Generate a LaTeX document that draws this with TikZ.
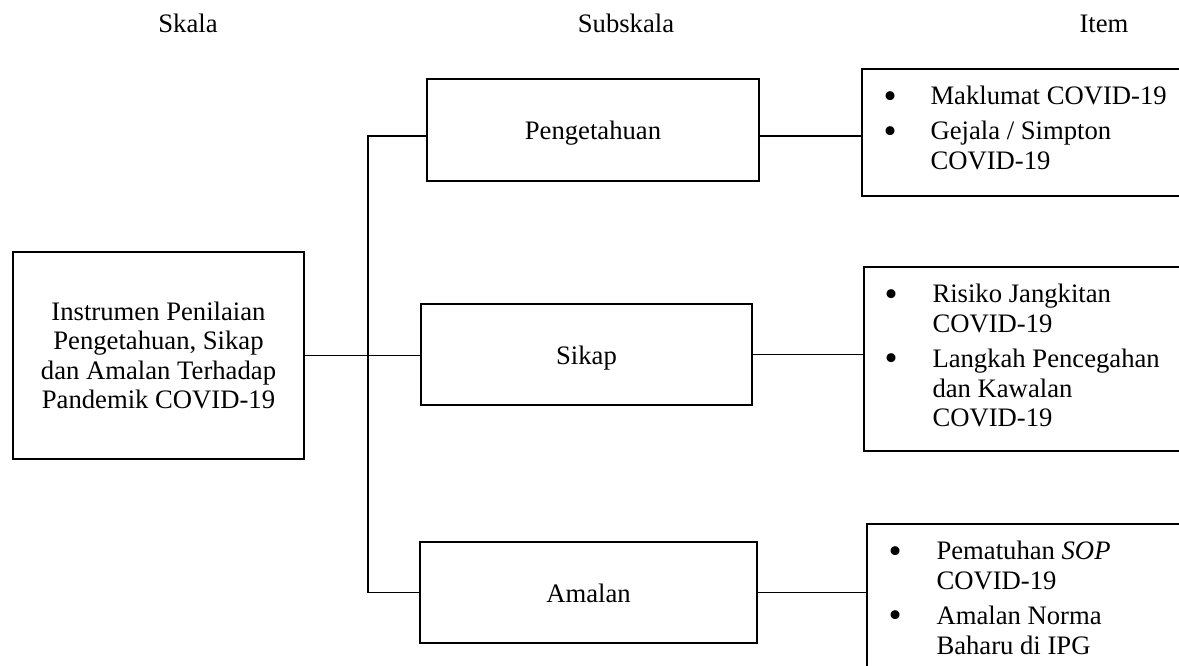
\documentclass[tikz,border=0pt]{standalone}
\usepackage{fontspec}
\setmainfont{Liberation Serif}

\tikzset{every picture/.style={line width=0.75pt}}
\tikzset{
  box/.style={draw, line width=1.8pt, inner sep=0pt},
  link/.style={line width=1.3pt},
  headtext/.style={anchor=base, inner sep=0pt},
  itemtext/.style={anchor=base west, inner sep=0pt},
}
\newcommand{\bigbul}{\raisebox{-2.5pt}{\scalebox{1.4}{\textbullet}}}

\begin{document}
\begin{tikzpicture}[x=0.75pt,y=0.75pt,yscale=-1,xscale=1,
  every node/.style={font=\fontsize{20}{22.2}\selectfont}]
\useasboundingbox (0,0) rectangle (1179,666);
\clip (0,0) rectangle (1179,666);

% Text Node
\node[headtext] (skala) at (188,33) {Skala};
% Text Node
\node[headtext] (subskala) at (626,33) {Subskala};
% Text Node
\node[headtext] (item) at (1104,33) {Item};

%Shape: Rectangle
\node[box, minimum width=218.25pt, minimum height=155.25pt, align=center] (root) at (158.5,355.5)
  {Instrumen Penilaian\\Pengetahuan, Sikap\\dan Amalan Terhadap\\Pandemik COVID-19};

%Shape: Rectangle
\node[box, minimum width=249pt, minimum height=76.5pt, text height=14.5pt, text depth=0pt] (peng) at (593,130) {Pengetahuan};
%Shape: Rectangle
\node[box, minimum width=248.25pt, minimum height=75.75pt, text height=14.5pt, text depth=0pt] (sikap) at (586.5,354.5) {Sikap};
%Shape: Rectangle
\node[box, minimum width=252.75pt, minimum height=75.75pt, text height=14.5pt, text depth=0pt] (amalan) at (588.5,592.5) {Amalan};

%Shape: Rectangle
\node[box, anchor=north west, minimum width=246.75pt, minimum height=95.25pt] (item1) at (861,68) {};
%Shape: Rectangle
\node[box, anchor=north west, minimum width=245.25pt, minimum height=138pt] (item2) at (863,266) {};
%Shape: Rectangle
\node[box, anchor=north west, minimum width=243pt, minimum height=120pt] (item3) at (866,523) {};

% Text Node
\node[itemtext] (list1) at (883,105) {\begin{tabular}[t]{@{}p{35.25pt}@{}l@{}}
\bigbul & Maklumat COVID-19\\[4pt]
\bigbul & Gejala / Simpton\\
 & COVID-19
\end{tabular}};
% Text Node
\node[itemtext] (list2) at (884,303) {\begin{tabular}[t]{@{}p{36pt}@{}l@{}}
\bigbul & Risiko Jangkitan\\
 & COVID-19\\[4pt]
\bigbul & Langkah Pencegahan\\
 & dan Kawalan\\
 & COVID-19
\end{tabular}};
% Text Node
\node[itemtext] (list3) at (888,560) {\begin{tabular}[t]{@{}p{36pt}@{}l@{}}
\bigbul & Pematuhan \textit{SOP}\\
 & COVID-19\\[4pt]
\bigbul & Amalan Norma\\
 & Baharu di IPG
\end{tabular}};

\coordinate (bustop) at (368,136);
\coordinate (busbot) at (bustop |- amalan.west);

%Straight Lines
\draw[link] (root.east) -- (root.east -| sikap.west);
%Straight Lines
\draw[link] (peng.west |- bustop) -- (bustop) -- (busbot) -- (amalan.west);
%Straight Lines
\draw[link] (peng.east |- bustop) -- (item1.west |- bustop);
%Straight Lines
\draw[link] (sikap.east) -- (sikap.east -| item2.west);
%Straight Lines
\draw[link] (amalan.east) -- (amalan.east -| item3.west);

\end{tikzpicture}
\end{document}
